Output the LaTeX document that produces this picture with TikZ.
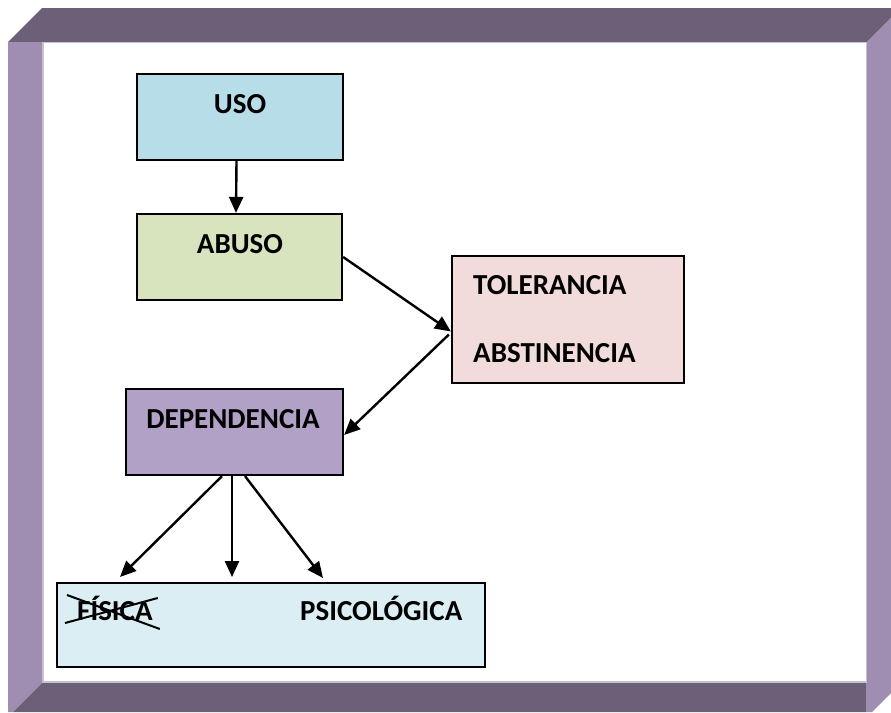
\documentclass[tikz,border=0pt]{standalone}
\usepackage{fontspec}
\setmainfont{Carlito}
\usetikzlibrary{arrows.meta,positioning}

\definecolor{marcoOsc}{RGB}{107,96,119}
\definecolor{marcoCla}{RGB}{159,142,177}
\definecolor{marcoLuz}{RGB}{200,192,210}
\definecolor{azulUso}{RGB}{183,221,232}
\definecolor{verdeAbuso}{RGB}{215,228,189}
\definecolor{rosaTol}{RGB}{242,220,219}
\definecolor{lilaDep}{RGB}{178,161,199}
\definecolor{celesteTipos}{RGB}{218,238,243}

\tikzset{
  caja/.style={draw,line width=2.2pt,inner sep=0pt},
  rotulo/.style={inner sep=0pt,font=\bfseries\fontsize{29}{34}\selectfont},
  flecha/.style={-{Triangle[length=16pt,width=14pt]},line width=2.4pt}
}

\begin{document}
\begin{tikzpicture}[x=1pt,y=-1pt]
\useasboundingbox (0,0) rectangle (891,712);

% marco biselado
\fill[marcoOsc] (42,8) -- (891,8) -- (891,18) -- (867,42) -- (8,42) -- cycle;
\fill[marcoCla] (8,42) -- (43,42) -- (43,682) -- (13,712) -- (8,712) -- cycle;
\fill[marcoOsc] (43,682) -- (866,682) -- (866,712) -- (13,712) -- cycle;
\fill[marcoCla] (866,42) -- (867,42) -- (891,18) -- (891,693) -- (872,712) -- (866,712) -- cycle;
\draw[marcoLuz,line width=1.4pt] (43,682) -- (43,42.5) -- (866.5,42.5) -- (866.5,682) -- cycle;

% cajas
\node[caja,fill=azulUso,minimum width=206pt,minimum height=86pt] (Buso) at (240,117) {};
\node[caja,fill=verdeAbuso,minimum width=205pt,minimum height=86pt] (Babuso) at (239.5,257) {};
\node[caja,fill=rosaTol,minimum width=232pt,minimum height=127pt] (Btol) at (568,319.5) {};
\node[caja,fill=lilaDep,minimum width=217pt,minimum height=86pt] (Bdep) at (234.5,432) {};
\node[caja,fill=celesteTipos,minimum width=428pt,minimum height=84pt] (Btipos) at (271,625) {};

% textos
\node[rotulo,anchor=base] (Tuso) at (240,113) {USO};
\node[rotulo,anchor=base] (Tabuso) at (240,253) {ABUSO};
\node[rotulo,anchor=base west] (Ttol) at (473,294) {TOLERANCIA};
\node[rotulo,anchor=base west] (Tabs) at (473,362) {ABSTINENCIA};
\node[rotulo,anchor=base] (Tdep) at (233,428) {DEPENDENCIA};
\node[rotulo,anchor=base west] (Tfisica) at (77,620) {FÍSICA};
\node[rotulo,anchor=base west] (Tpsico) at (300,620) {PSICOLÓGICA};

% tachado
\draw[line width=2pt] ([shift={(-12pt,-3pt)}]Tfisica.base west) -- ([shift={(5pt,22pt)}]Tfisica.base east);
\draw[line width=2pt] ([shift={(-10pt,25pt)}]Tfisica.base west) -- ([shift={(7pt,-9pt)}]Tfisica.base east);

% puntas libres
\coordinate (Ffis) at (120,577);
\coordinate (Fmed) at (232,577);
\coordinate (Fpsi) at (323,578);

\path [flecha]
  ([xshift=-3.5pt]Buso.south) edge ([xshift=-3.5pt]Babuso.north)
  (Babuso.east) edge ([yshift=-12pt]Btol.west)
  ([shift={(-2pt,-15pt)}]Btol.west) edge ([yshift=-3pt]Bdep.east)
  ([xshift=-12.5pt]Bdep.south) edge (Ffis)
  ([xshift=-2.5pt]Bdep.south) edge (Fmed)
  ([xshift=10.5pt]Bdep.south) edge (Fpsi);
\end{tikzpicture}
\end{document}
